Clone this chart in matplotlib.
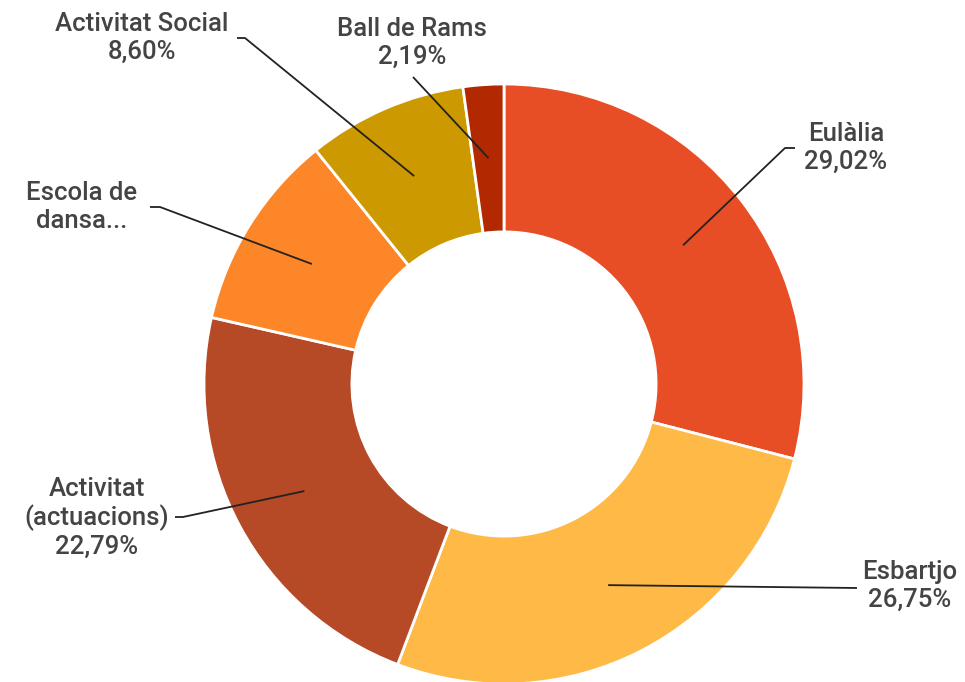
import numpy as np
import matplotlib
matplotlib.use("Agg")
import matplotlib.pyplot as plt

# ---------------------------------------------------------------------------
# dades
# ---------------------------------------------------------------------------
labels = ["Eulàlia", "Esbartjo", "Activitat\n(actuacions)", "Escola de\ndansa...",
          "Activitat Social", "Ball de Rams"]
values = [29.02, 26.75, 22.79, 10.65, 8.60, 2.19]
colors = ["#E84E25", "#FEB947", "#B64A26", "#FD8628", "#CC9900", "#B22800"]
show_pct = [True, True, True, False, True, True]

# posicions de les etiquetes (px de la imatge, y cap avall): text, colze, final de línia
text_pos = [(846, 148), (910, 586), (97, 518), (82, 207), (142, 38), (412, 43)]
line_pts = [
    [(785, 148), (795, 148)],
    [(857, 588)],
    [(183, 517), (175, 517)],
    [(160, 207), (150, 207)],
    [(245, 38), (237, 38)],
    [(413, 77)],
]

W, H = 965, 682
CX, CY, R = 504, 384, 300

plt.rcParams["font.family"] = ["Roboto", "DejaVu Sans"]

fig = plt.figure(figsize=(W / 100, H / 100), dpi=100)
ax = fig.add_axes([0, 0, 1, 1])

wedges, _ = ax.pie(values, colors=colors, startangle=90, counterclock=False,
                   center=(CX, H - CY), radius=R,
                   wedgeprops=dict(width=R * 0.493, edgecolor="white", linewidth=2))
ax.set_xlim(0, W)
ax.set_ylim(0, H)
ax.set_aspect("auto")
ax.axis("off")

for w, lab, val, show, (tx, ty), pts in zip(wedges, labels, values, show_pct,
                                             text_pos, line_pts):
    ang = np.deg2rad((w.theta1 + w.theta2) / 2)
    ax0 = CX + 0.755 * R * np.cos(ang)
    ay0 = (H - CY) + 0.755 * R * np.sin(ang)
    xs = [ax0] + [p[0] for p in pts]
    ys = [ay0] + [H - p[1] for p in pts]
    ax.plot(xs, ys, color="#222222", lw=1.3, solid_capstyle="butt")
    txt = lab
    if show:
        txt += "\n" + f"{val:.2f}".replace(".", ",") + "%"
    ax.text(tx, H - ty, txt, ha="center", va="center",
            multialignment="center", fontsize=18.5, fontweight="medium",
            color="#444444", linespacing=1.17)

fig.savefig("out.png", dpi=100)
